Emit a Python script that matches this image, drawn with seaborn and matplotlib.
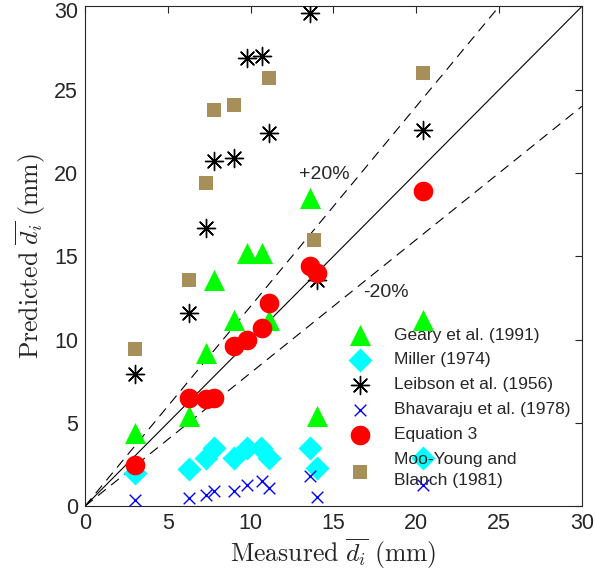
import numpy as np
import pandas as pd
import matplotlib
matplotlib.use('Agg')
import matplotlib.pyplot as plt
import matplotlib.transforms as mtrans
import seaborn as sns

### data (measured vs predicted mean diameter, mm)
geary_x = [3.0, 6.3, 7.3, 7.8, 9.0, 9.8, 10.7, 11.1, 13.6, 14.0, 20.4]
geary_y = [4.4, 5.4, 9.2, 13.6, 11.2, 15.2, 15.2, 11.2, 18.5, 5.4, 11.2]

miller_x = [3.0, 6.3, 7.3, 7.8, 9.0, 9.8, 10.6, 11.1, 13.6, 14.0, 20.4]
miller_y = [2.0, 2.2, 2.9, 3.5, 2.9, 3.5, 3.5, 2.9, 3.5, 2.3, 2.9]

leibson_x = [3.0, 6.3, 7.3, 7.8, 9.0, 9.8, 10.7, 11.1, 13.6, 14.0, 20.4]
leibson_y = [7.9, 11.6, 16.7, 20.7, 20.9, 26.9, 27.0, 22.4, 29.6, 13.6, 22.6]

bhav_x = [3.0, 6.3, 7.3, 7.8, 9.0, 9.8, 10.7, 11.1, 13.6, 14.0, 20.4]
bhav_y = [0.35, 0.5, 0.65, 0.9, 0.9, 1.25, 1.5, 1.1, 1.8, 0.55, 1.25]

eq3_x = [3.0, 6.3, 7.3, 7.8, 9.0, 9.8, 10.7, 11.1, 13.6, 14.0, 20.4]
eq3_y = [2.45, 6.5, 6.4, 6.5, 9.6, 9.95, 10.7, 12.2, 14.4, 14.0, 18.9]

moo_x = [3.0, 6.3, 7.3, 7.8, 9.0, 11.1, 13.8, 20.4]
moo_y = [9.4, 13.6, 19.4, 23.8, 24.1, 25.7, 16.0, 26.0]

sns.set_style('white')
plt.rcParams['font.family'] = ['Liberation Sans', 'DejaVu Sans']
plt.rcParams['mathtext.fontset'] = 'cm'

fig, ax = plt.subplots(1, 1, figsize=(5.95, 5.83), dpi=100)
fig.subplots_adjust(left=0.143, right=0.978, bottom=0.132, top=0.989)

### reference lines: 1:1 and +/-20%
xx = np.array([0, 30])
ax.plot(xx, xx, c='k', lw=0.8)
ax.plot(xx, 1.2 * xx, c='k', lw=0.8, ls=(0, (9, 6)))
ax.plot(xx, 0.8 * xx, c='k', lw=0.8, ls=(0, (9, 6)))

### data series
sns.scatterplot(x=geary_x, y=geary_y, marker='^', s=230, color='#00ff00',
                edgecolor='#00ff00', linewidth=0, ax=ax, label='Geary et al. (1991)', zorder=3)
sns.scatterplot(x=miller_x, y=miller_y, marker='D', s=150, color='#00ffff',
                edgecolor='#00ffff', linewidth=0, ax=ax, label='Miller (1974)', zorder=3)
sns.scatterplot(x=leibson_x, y=leibson_y, marker=(8, 2, 0), s=170, color='k',
                linewidth=1.0, ax=ax, label='Leibson et al. (1956)', zorder=3)
sns.scatterplot(x=bhav_x, y=bhav_y, marker='x', s=70, color='#0000ff',
                linewidth=1.0, ax=ax, label='Bhavaraju et al. (1978)', zorder=3)
sns.scatterplot(x=eq3_x, y=eq3_y, marker='o', s=200, color='#ff0000',
                edgecolor='#ff0000', linewidth=0, ax=ax, label='Equation 3', zorder=4)
sns.scatterplot(x=moo_x, y=moo_y, marker='s', s=95, color='#a68f59',
                edgecolor='#a68f59', linewidth=0, ax=ax, label='Moo-Young and\nBlanch (1981)', zorder=3)

ax.text(12.9, 19.9, '+20%', fontsize=14, va='center', ha='left')
ax.text(16.8, 12.8, '-20%', fontsize=14, va='center', ha='left')

ax.set_xlim(0, 30)
ax.set_ylim(0, 30)
ax.set_xticks(np.arange(0, 31, 5))
ax.set_yticks(np.arange(0, 31, 5))
ax.tick_params(direction='in', length=5, width=0.8, top=True, right=True,
               labelsize=15.5, colors='#262626', pad=5)
for sp in ax.spines.values():
    sp.set_color('#262626')
    sp.set_linewidth(0.8)

# top y label sits a little lower so it stays inside the figure
top_lab = ax.get_yticklabels()[-1]
top_lab.set_transform(top_lab.get_transform() + mtrans.ScaledTranslation(0, -2.5 / 72, fig.dpi_scale_trans))

ax.set_xlabel(r'$\mathrm{Measured}\ \overline{d_i}\ \mathrm{(mm)}$', fontsize=18.5, color='#262626', labelpad=2)
ax.set_ylabel(r'$\mathrm{Predicted}\ \overline{d_i}\ \mathrm{(mm)}$', fontsize=18.5, color='#262626', labelpad=4)

leg = ax.legend(loc='lower right', bbox_to_anchor=(1.001, 0.011), frameon=False, fontsize=12.5,
                handletextpad=0.95, labelspacing=0.56, borderaxespad=0.3)
for t in leg.get_texts():
    t.set_linespacing(1.55)

plt.savefig('out.png', dpi=100)
